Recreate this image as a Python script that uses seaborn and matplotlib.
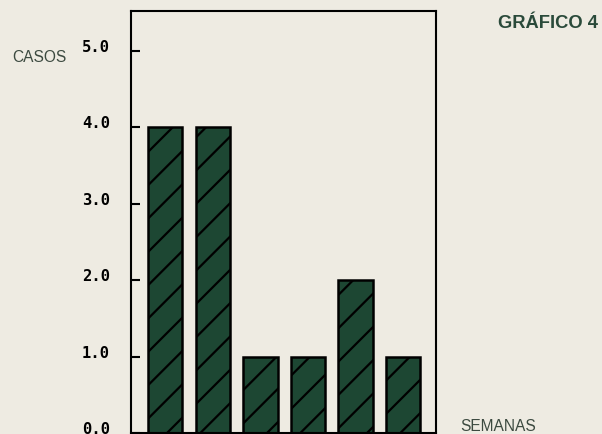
import matplotlib
matplotlib.use("Agg")
import matplotlib.pyplot as plt
import seaborn as sns
import pandas as pd

semanas = ["1", "2", "3", "4", "5", "6"]
casos = [4, 4, 1, 1, 2, 1]
yticks = [0, 1, 2, 3, 4, 5]
ytick_labels = ["0.0", "1.0", "2.0", "3.0", "4.0", "5.0"]

bg = "#eeebe2"
green = "#1d4733"

sns.set_style("white")
plt.rcParams["hatch.linewidth"] = 0.8
plt.rcParams["hatch.color"] = "black"

DPI = 200
fig = plt.figure(figsize=(602 / DPI, 435 / DPI), dpi=DPI, facecolor=bg)
ax = fig.add_axes([131 / 602, 1 / 435, (436 - 131) / 602, (434 - 12) / 435])
ax.set_facecolor(bg)

df = pd.DataFrame({"semana": semanas, "casos": casos})
sns.barplot(data=df, x="semana", y="casos", color=green, saturation=1,
            width=0.72, edgecolor="black", linewidth=0.9, hatch="//", ax=ax)

ax.set_xlim(-0.72, 5.69)
ax.set_ylim(0, 5.52)
ax.set_xlabel("")
ax.set_ylabel("")
ax.set_xticks([])
ax.set_yticks(yticks)
ax.set_yticklabels(ytick_labels, family="DejaVu Sans Mono", fontweight="bold",
                   fontsize=5.6, color="black")
for lab in ax.get_yticklabels():
    lab.set_verticalalignment("baseline")
ax.tick_params(axis="y", direction="in", length=3.2, width=0.75, pad=7.5,
               left=True, right=False, colors="black")
for s in ax.spines.values():
    s.set_visible(True)
    s.set_color("black")
    s.set_linewidth(0.75)

fig.text(12 / 602, 1 - 57 / 435, "CASOS", family="Liberation Sans",
         fontsize=5.6, color="#3c4a40", ha="left", va="center")
fig.text(498 / 602, 1 - 24 / 435, "GRÁFICO 4", family="Liberation Sans", fontweight="bold",
         fontsize=6.6, color="#2a4a3a", ha="left", va="center")
fig.text(460 / 602, 0.003, "SEMANAS", family="Liberation Sans",
         fontsize=5.6, color="#3c4a40", ha="left", va="bottom")

fig.savefig("out.png", dpi=DPI, facecolor=bg)
